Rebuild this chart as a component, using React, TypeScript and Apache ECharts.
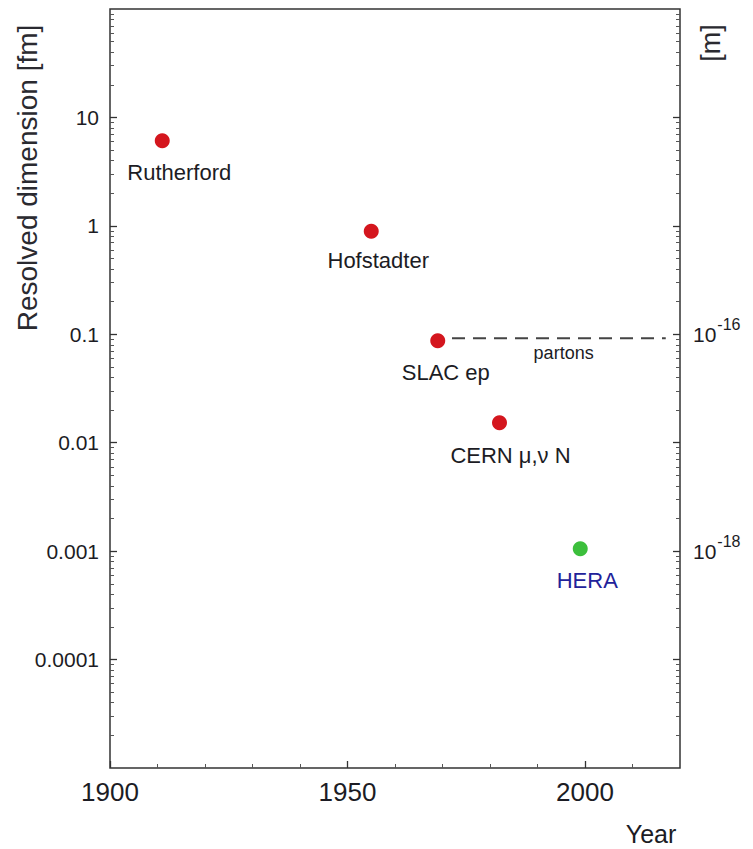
import React, { useEffect, useRef } from "react";
import * as echarts from "echarts";

// ---- data ----
const experiments = ["Rutherford", "Hofstadter", "SLAC ep", "CERN μ,ν N", "HERA"];
const years = [1911, 1955, 1969, 1982, 1999];
const dimensionsFm = [6.1, 0.89, 0.087, 0.0153, 0.00105];
const partonsLine = { startYear: 1972, endYear: 2017, valueFm: 0.092, label: "partons" };

const xMajorTicks = [1900, 1950, 2000];
const xMinorTicks = [1910, 1920, 1930, 1940, 1960, 1970, 1980, 1990, 2010];
const yMajorValuesFm = [0.0001, 0.001, 0.01, 0.1, 1, 10];
const yMajorLabels = ["0.0001", "0.001", "0.01", "0.1", "1", "10"];
const metreValuesFm = [0.1, 0.001];
const metreExponents = ["-16", "-18"];

// ---- styles ----
const pointColors = ["#d4161e", "#d4161e", "#d4161e", "#d4161e", "#3cbf3c"];
const labelColors = ["#1c1c24", "#1c1c24", "#1c1c24", "#1c1c24", "#22229a"];
const labelOffsets = [[17, 32], [7, 29], [8, 32], [11, 33], [7, 32]];
const FONT = "'Liberation Sans', Arial, Helvetica, sans-serif";
const TEXT = "#1c1c24";

const lg = (v: number) => Math.log10(v);
const minorLog: number[] = [];
for (let d = -5; d <= 1; d++) for (let k = 2; k <= 9; k++) minorLog.push(d + Math.log10(k));

export default function App() {
  const ref = useRef<HTMLDivElement>(null);
  useEffect(() => {
    document.body.style.margin = "0";
    const chart = echarts.init(ref.current!, null, { renderer: "svg" });
    const majorLog = yMajorValuesFm.map(lg);
    const baseY = {
      type: "value" as const,
      min: -5,
      max: 2,
      splitLine: { show: false },
      axisLine: { show: false, onZero: false },
    };
    const baseX = {
      type: "value" as const,
      min: 1900,
      max: 2020,
      position: "bottom" as const,
      splitLine: { show: false },
      axisLine: { show: false, onZero: false },
    };
    const option: any = {
      animation: false,
      backgroundColor: "#fff",
      grid: {
        left: 110, right: 73, top: 9, bottom: 81,
        show: true, borderColor: "#333", borderWidth: 1.5, backgroundColor: "transparent",
      },
      xAxis: [
        {
          ...baseX,
          axisTick: { show: true, inside: true, length: 7, customValues: xMajorTicks, lineStyle: { color: "#333", width: 1.3 } },
          axisLabel: {
            customValues: xMajorTicks, margin: 11, fontSize: 26, color: TEXT, fontFamily: FONT,
            formatter: (v: number) => String(v),
          },
        },
        {
          ...baseX,
          axisTick: { show: true, inside: true, length: 4, customValues: xMinorTicks, lineStyle: { color: "#555", width: 1 } },
          axisLabel: { show: false },
        },
      ],
      yAxis: [
        {
          ...baseY, position: "left",
          axisTick: { show: true, inside: true, length: 7, customValues: majorLog, lineStyle: { color: "#333", width: 1.3 } },
          axisLabel: {
            customValues: majorLog, margin: 11, fontSize: 21, color: TEXT, fontFamily: FONT,
            formatter: (v: number) => {
              const i = majorLog.findIndex((m) => Math.abs(m - v) < 1e-6);
              return i >= 0 ? yMajorLabels[i] : "";
            },
          },
        },
        {
          ...baseY, position: "left",
          axisTick: { show: true, inside: true, length: 4, customValues: minorLog, lineStyle: { color: "#555", width: 1 } },
          axisLabel: { show: false },
        },
        {
          ...baseY, position: "right",
          axisTick: { show: true, inside: true, length: 7, customValues: majorLog, lineStyle: { color: "#333", width: 1.3 } },
          axisLabel: {
            customValues: metreValuesFm.map(lg), margin: 13, color: TEXT, fontFamily: FONT,
            formatter: (v: number) => {
              const i = metreValuesFm.findIndex((m) => Math.abs(lg(m) - v) < 1e-6);
              return i >= 0 ? `{n|10}{s|${metreExponents[i]}}` : "";
            },
            rich: {
              n: { fontSize: 21, color: TEXT, fontFamily: FONT },
              s: { fontSize: 16, color: TEXT, fontFamily: FONT, padding: [0, 0, 20, 1] },
            },
          },
        },
        {
          ...baseY, position: "right",
          axisTick: { show: true, inside: true, length: 4, customValues: minorLog, lineStyle: { color: "#555", width: 1 } },
          axisLabel: { show: false },
        },
      ],
      graphic: [
        {
          type: "text", x: 27, y: 178, rotation: Math.PI / 2,
          style: { text: "Resolved dimension [fm]", fontSize: 28, fill: "#2a2a30", fontFamily: FONT, align: "center", verticalAlign: "middle" },
        },
        {
          type: "text", x: 711, y: 43, rotation: Math.PI / 2,
          style: { text: "[m]", fontSize: 27, fill: "#2a2a30", fontFamily: FONT, align: "center", verticalAlign: "middle" },
        },
        {
          type: "text", x: 651, y: 834,
          style: { text: "Year", fontSize: 25, fill: TEXT, fontFamily: FONT, align: "center", verticalAlign: "middle" },
        },
      ],
      series: [
        {
          type: "line",
          xAxisIndex: 0, yAxisIndex: 0,
          data: [[partonsLine.startYear, lg(partonsLine.valueFm)], [partonsLine.endYear, lg(partonsLine.valueFm)]],
          symbol: "none",
          lineStyle: { color: "#444", width: 2, type: [13, 8] },
          silent: true,
        },
        {
          type: "scatter",
          xAxisIndex: 0, yAxisIndex: 0,
          data: [[(partonsLine.startYear + partonsLine.endYear) / 2 + 1, lg(partonsLine.valueFm)]],
          symbolSize: 0,
          itemStyle: { opacity: 1 },
          label: {
            show: true, position: "inside", offset: [0, 15], formatter: partonsLine.label,
            fontSize: 18, color: TEXT, fontFamily: FONT,
          },
          silent: true,
        },
        {
          type: "scatter",
          xAxisIndex: 0, yAxisIndex: 0,
          symbolSize: 15,
          data: years.map((y, i) => ({
            value: [y, lg(dimensionsFm[i])],
            name: experiments[i],
            itemStyle: { color: pointColors[i], opacity: 1 },
            label: {
              show: true, position: "inside", offset: labelOffsets[i],
              formatter: experiments[i], fontSize: 22, color: labelColors[i], fontFamily: FONT,
            },
          })),
        },
      ],
    };
    chart.setOption(option);
    return () => chart.dispose();
  }, []);
  return <div ref={ref} style={{ width: 753, height: 849 }} />;
}
